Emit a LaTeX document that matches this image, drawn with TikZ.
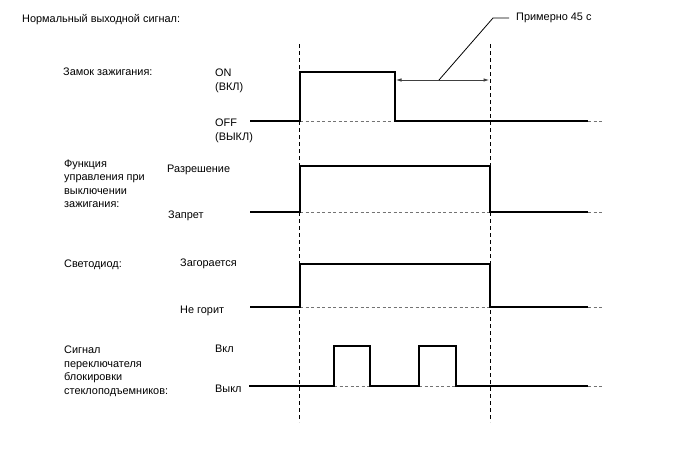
\documentclass[tikz,border=0pt]{standalone}
\usepackage{fontspec}
\setmainfont{Liberation Sans}
\usetikzlibrary{arrows.meta}
\begin{document}
\begin{tikzpicture}[x=1pt,y=-1pt,
  lbl/.style={anchor=base west,inner sep=0pt,font=\fontsize{10.9}{13.4}\selectfont},
  mlbl/.style={anchor=north west,inner sep=0pt,align=left,font=\fontsize{10.9}{13.4}\selectfont},
  sig/.style={line width=1.5pt,line join=miter,black},
  basel/.style={black!55,dash pattern=on 3pt off 2.5pt,line width=0.9pt},
  marker/.style={black,dash pattern=on 4pt off 3pt,line width=1pt},
  dim/.style={black!75,line width=1pt,{Latex[length=6pt,width=3.5pt]}-{Latex[length=6pt,width=3.5pt]}},
  leader/.style={black,line width=0.8pt}]
\useasboundingbox[fill=white] (0,0) rectangle (688,463);

% labels
\node[lbl] (title) at (22,22) {Нормальный выходной сигнал:};
\node[lbl] (ign) at (63,75) {Замок зажигания:};
\node[lbl] (on) at (215,76) {ON};
\node[lbl] (onr) at (215,90.5) {(ВКЛ)};
\node[lbl] (off) at (215,126.5) {OFF};
\node[lbl] (offr) at (215,140) {(ВЫКЛ)};
\node[mlbl] (func) at (64,159.8) {Функция\\управления при\\выключении\\зажигания:};
\node[lbl] (perm) at (167,172) {Разрешение};
\node[lbl] (proh) at (168,218.5) {Запрет};
\node[lbl] (led) at (64,267.5) {Светодиод:};
\node[lbl] (ledon) at (180,266) {Загорается};
\node[lbl] (ledoff) at (180,313) {Не горит};
\node[mlbl] (win) at (64,346) {Сигнал\\переключателя\\блокировки\\стеклоподъемников:};
\node[lbl] (won) at (215,352) {Вкл};
\node[lbl] (woff) at (215,392.5) {Выкл};
\node[lbl] (approx) at (516,20) {Примерно 45 с};

% vertical time markers
\coordinate (m1t) at (299.5,44); \coordinate (m1b) at (299.5,422);
\coordinate (m2t) at (490.5,44); \coordinate (m2b) at (490.5,422);
\draw[marker] (m1t) -- (m1b);
\draw[marker] (m2t) -- (m2b);

% baselines (dashed)
\draw[basel] (300,121) -- (395,121);
\draw[basel] (588,121) -- (603,121);
\draw[basel] (300,212) -- (490,212);
\draw[basel] (588,212) -- (603,212);
\draw[basel] (300,307) -- (490,307);
\draw[basel] (588,307) -- (603,307);
\draw[basel] (334,386) -- (370,386);
\draw[basel] (419,386) -- (456,386);
\draw[basel] (588,386) -- (603,386);

% signals
\draw[sig] (250,121) -- (300,121) -- (300,72) -- (395,72) -- (395,121) -- (588,121);
\draw[sig] (250,212) -- (300,212) -- (300,166) -- (490,166) -- (490,212) -- (588,212);
\draw[sig] (250,307) -- (300,307) -- (300,264) -- (490,264) -- (490,307) -- (588,307);
\draw[sig] (249,386) -- (334,386) -- (334,346) -- (370,346) -- (370,386) -- (419,386)
  -- (419,346) -- (456,346) -- (456,386) -- (588,386);

% duration arrow and leader
\coordinate (d1) at (395.5,80);
\coordinate (d2) at (489.5,80);
\coordinate (dm) at (439,80);
\coordinate (lk) at (493,18);
\coordinate (le) at (509,18);
\draw[dim] (d1) -- (d2);
\draw[leader] (dm) -- (lk) -- (le);
\end{tikzpicture}
\end{document}
